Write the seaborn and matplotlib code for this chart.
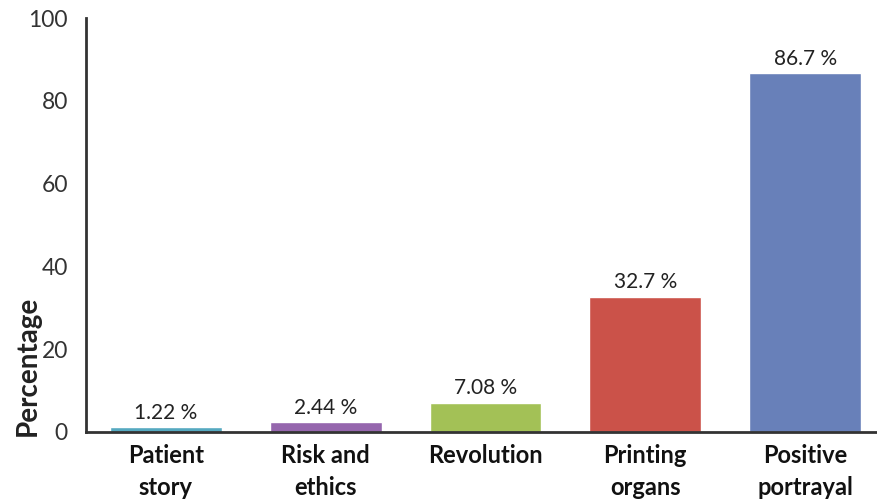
import matplotlib
matplotlib.use("Agg")
import matplotlib.pyplot as plt
import seaborn as sns
import pandas as pd

# datos
categorias = ["Patient\nstory", "Risk and\nethics", "Revolution", "Printing\norgans", "Positive\nportrayal"]
porcentajes = [1.22, 2.44, 7.08, 32.7, 86.7]
etiquetas = ["1.22 %", "2.44 %", "7.08 %", "32.7 %", "86.7 %"]
colores = ["#55a9c0", "#9566ad", "#a3c156", "#cb5249", "#6880b9"]

sns.set_style("white")
plt.rcParams['font.family'] = ['Lato', 'DejaVu Sans']

df = pd.DataFrame({"Categoria": categorias, "Porcentaje": porcentajes})

fig = plt.figure(figsize=(8.77, 5.04), dpi=100)
ax = fig.add_axes([0.098, 0.143, 0.902, 0.821])

sns.barplot(data=df, x="Categoria", y="Porcentaje", hue="Categoria",
            palette=colores, width=0.7, legend=False, ax=ax, saturation=1)

for i, (v, t) in enumerate(zip(porcentajes, etiquetas)):
    ax.text(i, v + 1.0, t, ha="center", va="bottom", fontsize=15, color="#222222")

ax.set_ylim(0, 100)
ax.set_xlim(-0.5, 4.45)
ax.set_yticks([0, 20, 40, 60, 80, 100])
ax.tick_params(axis="y", labelsize=16.5, colors="#333333", length=0, pad=13)
ax.tick_params(axis="x", labelsize=17, colors="#111111", length=0, pad=9)
for lab in ax.get_xticklabels():
    lab.set_fontweight("bold")
    lab.set_linespacing(1.45)
ax.set_xlabel("")
ax.set_ylabel("")

for s in ["top", "right"]:
    ax.spines[s].set_visible(False)
for s in ["left", "bottom"]:
    ax.spines[s].set_color("#333333")
    ax.spines[s].set_linewidth(2)

fig.text(0.032, 0.275, "Percentage", rotation=90, ha="center", va="center",
         fontsize=20, fontweight="bold", color="#222222")

fig.savefig("out.png", dpi=100)
